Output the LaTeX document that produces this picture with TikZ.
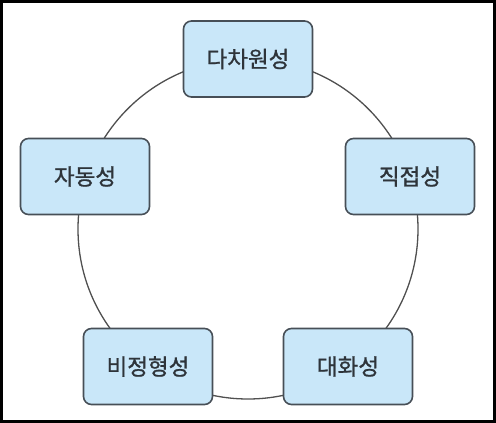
\documentclass[tikz,border=0pt]{standalone}
\usepackage{fontspec}
\newfontfamily\kr[FakeBold=1]{Noto Sans CJK KR}
\usepackage{tikz}
\usetikzlibrary{positioning,calc}
\definecolor{boxfill}{HTML}{C9E7F9}
\definecolor{boxline}{HTML}{474F57}
\definecolor{ringline}{HTML}{505050}
\definecolor{txt}{HTML}{2E343A}

\begin{document}
\begin{tikzpicture}[x=1pt,y=-1pt,
	prop/.style={draw=boxline, line width=1.6pt, fill=boxfill, rounded corners=8pt,
		minimum width=129pt, minimum height=76pt, inner sep=0pt,
		text=txt, font=\kr\fontsize{22.5}{26}\selectfont}]
	\useasboundingbox (0,0) rectangle (496,423);
	\draw[line width=3pt] (1.5,1.5) rectangle (494.5,421.5);
	\coordinate (c) at (248,229);
	\draw[ringline, line width=1.3pt] (c) circle (170pt);
	\node[prop] (q0) at ($(c)+(0,-170)$) {다차원성};
	\node[prop] (q1) at ($(c)+(162,-52.5)$) {직접성};
	\node[prop] (q2) at ($(c)+(100,137.5)$) {대화성};
	\node[prop] (q3) at ($(c)+(-100,137.5)$) {비정형성};
	\node[prop] (q4) at ($(c)+(-163,-52.5)$) {자동성};
\end{tikzpicture}
\end{document}
